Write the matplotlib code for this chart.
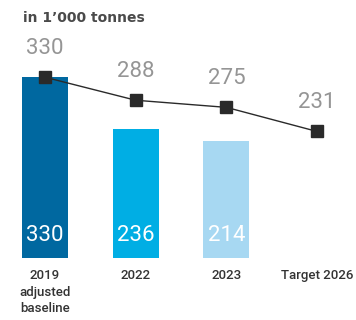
import matplotlib
matplotlib.use("Agg")
import matplotlib.pyplot as plt

categories = ["2019\nadjusted\nbaseline", "2022", "2023", "Target 2026"]
bar_values = [330, 236, 214]
line_values = [330, 288, 275, 231]
bar_colors = ["#0068A0", "#00AEE4", "#A7D8F2"]

fig = plt.figure(figsize=(3.56, 3.2), dpi=100)
ax = fig.add_axes([0, 62/320, 1, 258/320])
x = list(range(len(categories)))
ax.bar(x[:len(bar_values)], bar_values, width=0.507, color=bar_colors)
ax.plot(x, line_values, color="#2a2a2a", lw=1.0, marker="s", markersize=8.5,
        markerfacecolor="#2a2a2a", markeredgecolor="#2a2a2a", zorder=3)

for xi, v in zip(x, line_values):
    ax.annotate(f"{v}", (xi, v), xytext=(0, 21), textcoords="offset points",
                ha="center", va="center", fontsize=16, color="#959595",
                family="Roboto", fontweight="normal")
for xi, v in zip(x, bar_values):
    ax.annotate(f"{v}", (xi, 0), xytext=(0, 16), textcoords="offset points",
                ha="center", va="center", fontsize=16, color="white",
                family="Roboto", fontweight="normal")

ax.set_xlim(-0.496, 3.429)
ax.set_ylim(0, 471)
ax.set_xticks(x)
ax.set_xticklabels(categories, fontsize=9.5, color="#333333", family="Roboto",
                   fontweight="medium", linespacing=1.35)
ax.tick_params(axis="x", length=0, pad=8)
ax.set_yticks([])
for s in ax.spines.values():
    s.set_visible(False)

fig.text(23/356, 1 - 18/320, "in 1\u2019000 tonnes", ha="left", va="center",
         fontsize=10, fontweight="bold", color="#4a4a4a", family="DejaVu Sans")

fig.savefig("out.png", dpi=100)
